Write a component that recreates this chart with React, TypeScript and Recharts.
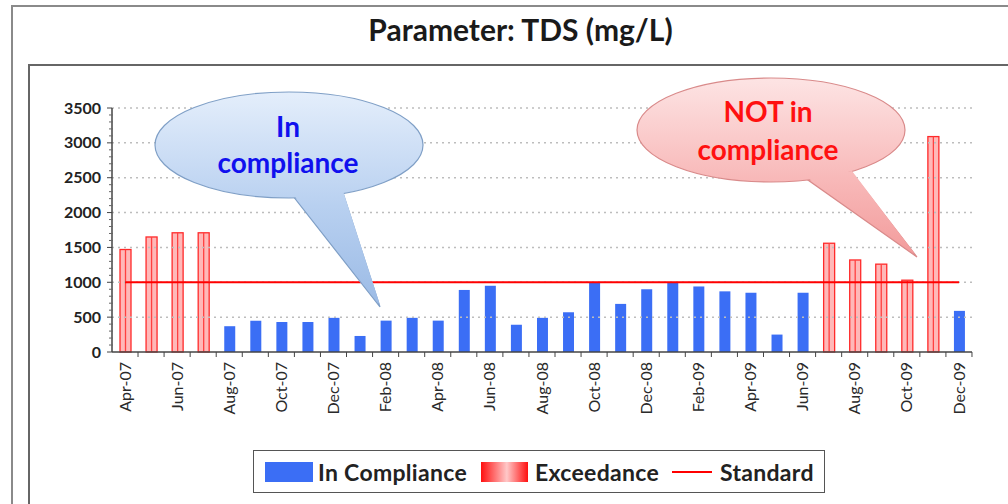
import { ComposedChart, Bar, Line, XAxis, YAxis, ReferenceLine } from 'recharts';

const months = [
  'Apr-07', 'May-07', 'Jun-07', 'Jul-07', 'Aug-07', 'Sep-07', 'Oct-07', 'Nov-07', 'Dec-07',
  'Jan-08', 'Feb-08', 'Mar-08', 'Apr-08', 'May-08', 'Jun-08', 'Jul-08', 'Aug-08', 'Sep-08',
  'Oct-08', 'Nov-08', 'Dec-08', 'Jan-09', 'Feb-09', 'Mar-09', 'Apr-09', 'May-09', 'Jun-09',
  'Jul-09', 'Aug-09', 'Sep-09', 'Oct-09', 'Nov-09', 'Dec-09',
];

const inCompliance = [
  null, null, null, null, 370, 450, 430, 430, 490,
  230, 450, 490, 450, 890, 950, 390, 490, 570,
  990, 690, 900, 990, 940, 870, 850, 250, 850,
  null, null, null, null, null, 590,
];

const exceedance = [
  1470, 1650, 1710, 1710, null, null, null, null, null,
  null, null, null, null, null, null, null, null, null,
  null, null, null, null, null, null, null, null, null,
  1560, 1320, 1260, 1030, 3090, null,
];

const standardLimit = 1000;
const majorTicks = [0, 500, 1000, 1500, 2000, 2500, 3000, 3500];
const minorTicks = Array.from({ length: 36 }, (_, i) => i * 100);

const data = months.map((month, i) => ({
  month,
  inCompliance: inCompliance[i],
  exceedance: exceedance[i],
  standard: standardLimit,
}));

const FONT = 'Lato, "Open Sans", sans-serif';
const HALF_BAND = 13;

function YTick({ x, y, payload }: any) {
  const major = payload.value % 500 === 0;
  return (
    <g>
      {major ? (
        <>
          <line x1={x - 5} x2={x} y1={y} y2={y} stroke="#444" />
          <text x={x - 11} y={y} dy="0.35em" textAnchor="end" fontSize={16} fontWeight={700} fill="#222" fontFamily={FONT}>
            {payload.value}
          </text>
        </>
      ) : (
        <line x1={x - 3} x2={x + 1} y1={y} y2={y} stroke="#666" />
      )}
    </g>
  );
}

function XTick({ x, y, payload, index }: any) {
  return (
    <g>
      <line x1={x + HALF_BAND} x2={x + HALF_BAND} y1={y} y2={y + 5} stroke="#444" />
      {index % 2 === 0 && (
        <text
          x={x}
          y={y + 10}
          dy="0.35em"
          textAnchor="end"
          transform={`rotate(-90, ${x}, ${y + 10})`}
          fontSize={16}
          fill="#2a2a2a"
          fontFamily={FONT}
        >
          {payload.value}
        </text>
      )}
    </g>
  );
}

function ExceedanceBar({ x, y, width, height }: any) {
  if (!height) return null;
  return (
    <g>
      <rect x={x} y={y} width={width} height={height} fill="#ffb8b8" stroke="#ff2a2a" strokeWidth={1.3} />
      <line x1={x + width / 2} x2={x + width / 2} y1={y} y2={y + height} stroke="#ff4040" strokeWidth={1.3} />
    </g>
  );
}

function Callouts() {
  const label = { textAnchor: 'middle' as const, fontSize: 28, fontWeight: 700, fontFamily: FONT };
  return (
    <svg width={1008} height={504} style={{ position: 'absolute', left: 0, top: 0, pointerEvents: 'none' }}>
      <defs>
        <linearGradient id="blueFill" gradientUnits="userSpaceOnUse" x1="0" y1="92" x2="0" y2="300">
          <stop offset="0%" stopColor="#e4eefb" />
          <stop offset="55%" stopColor="#b8d0f0" />
          <stop offset="100%" stopColor="#9dbce6" />
        </linearGradient>
        <linearGradient id="pinkFill" gradientUnits="userSpaceOnUse" x1="0" y1="78" x2="0" y2="260">
          <stop offset="0%" stopColor="#fde4e4" />
          <stop offset="55%" stopColor="#f8b9b9" />
          <stop offset="100%" stopColor="#f29a9a" />
        </linearGradient>
      </defs>
      <polygon points="293,196 343,193 380,307" fill="url(#blueFill)" stroke="#7f9fc6" strokeWidth={1.2} />
      <ellipse cx={289} cy={145} rx={134} ry={53} fill="url(#blueFill)" stroke="#7f9fc6" strokeWidth={1.2} />
      <polygon points="293,194 343,191 380,305" fill="url(#blueFill)" />
      <text x={288} y={127} dy="0.35em" fill="#1010ee" {...label}>In</text>
      <text x={288} y={163} dy="0.35em" fill="#1010ee" {...label}>compliance</text>

      <polygon points="808,180 852,173 917,257" fill="url(#pinkFill)" stroke="#d98a8a" strokeWidth={1.2} />
      <ellipse cx={771} cy={130} rx={134} ry={52} fill="url(#pinkFill)" stroke="#d98a8a" strokeWidth={1.2} />
      <polygon points="808,178 852,171 915,254" fill="url(#pinkFill)" />
      <text x={768} y={112} dy="0.35em" fill="#ff1010" {...label}>NOT in</text>
      <text x={768} y={150} dy="0.35em" fill="#ff1010" {...label}>compliance</text>
    </svg>
  );
}

function ChartLegend() {
  const text = { fontSize: 23, fontWeight: 700, color: '#222', fontFamily: FONT, letterSpacing: 0.3 };
  return (
    <div
      style={{
        position: 'absolute', left: 253, top: 450, width: 572, height: 43, boxSizing: 'border-box',
        border: '1.5px solid #555', display: 'flex', alignItems: 'center', paddingLeft: 11, background: '#fff',
      }}
    >
      <div style={{ width: 48, height: 20, background: '#3b6ef5', marginRight: 5 }} />
      <span style={text}>In Compliance</span>
      <div
        style={{
          width: 47, height: 20, marginLeft: 14, marginRight: 7,
          background: 'linear-gradient(to right, #ff1010, #ffc8c8 55%, #ff1010)',
        }}
      />
      <span style={text}>Exceedance</span>
      <div style={{ width: 40, height: 2, background: '#ff0000', marginLeft: 13, marginRight: 8 }} />
      <span style={text}>Standard</span>
    </div>
  );
}

export default function App() {
  return (
    <div style={{ position: 'absolute', left: 0, top: 0, width: 1008, height: 504, overflow: 'hidden', background: '#fff' }}>
      <div style={{ position: 'absolute', left: 11, top: 5, width: 1100, height: 600, borderLeft: '2px solid #8a8a8a', borderTop: '2px solid #8a8a8a' }} />
      <div style={{ position: 'absolute', left: 28, top: 64, width: 1100, height: 600, borderLeft: '2px solid #666', borderTop: '2px solid #666' }} />
      <div
        style={{
          position: 'absolute', left: 0, width: 1041, top: 11, textAlign: 'center',
          fontSize: 30, fontWeight: 700, color: '#1a1a1a', fontFamily: FONT,
        }}
      >
        Parameter: TDS (mg/L)
      </div>
      <div style={{ position: 'absolute', left: 0, top: 0 }}>
        <ComposedChart width={1008} height={504} data={data} margin={{ top: 108, right: 36, bottom: 82, left: 52 }}>
          {majorTicks.slice(1).map((t) => (
            <ReferenceLine key={t} y={t} stroke="#bdbdbd" strokeDasharray="2 4" strokeWidth={1.5} />
          ))}
          <XAxis
            dataKey="month"
            interval={0}
            tickSize={0}
            tickMargin={0}
            tickLine={false}
            tick={<XTick />}
            axisLine={{ stroke: '#444', strokeWidth: 1.5 }}
            height={70}
          />
          <YAxis
            domain={[0, 3500]}
            ticks={minorTicks}
            interval={0}
            tickSize={0}
            tickMargin={0}
            tickLine={false}
            tick={<YTick />}
            axisLine={{ stroke: '#444', strokeWidth: 1.5 }}
            width={60}
          />
          <Bar dataKey="inCompliance" name="In Compliance" stackId="tds" fill="#3b6ef5" barSize={11} isAnimationActive={false} />
          <Bar dataKey="exceedance" name="Exceedance" stackId="tds" shape={<ExceedanceBar />} barSize={11} isAnimationActive={false} />
          <Line dataKey="standard" name="Standard" type="linear" stroke="#ff0000" strokeWidth={2} dot={false} activeDot={false} isAnimationActive={false} />
        </ComposedChart>
      </div>
      <Callouts />
      <ChartLegend />
    </div>
  );
}
